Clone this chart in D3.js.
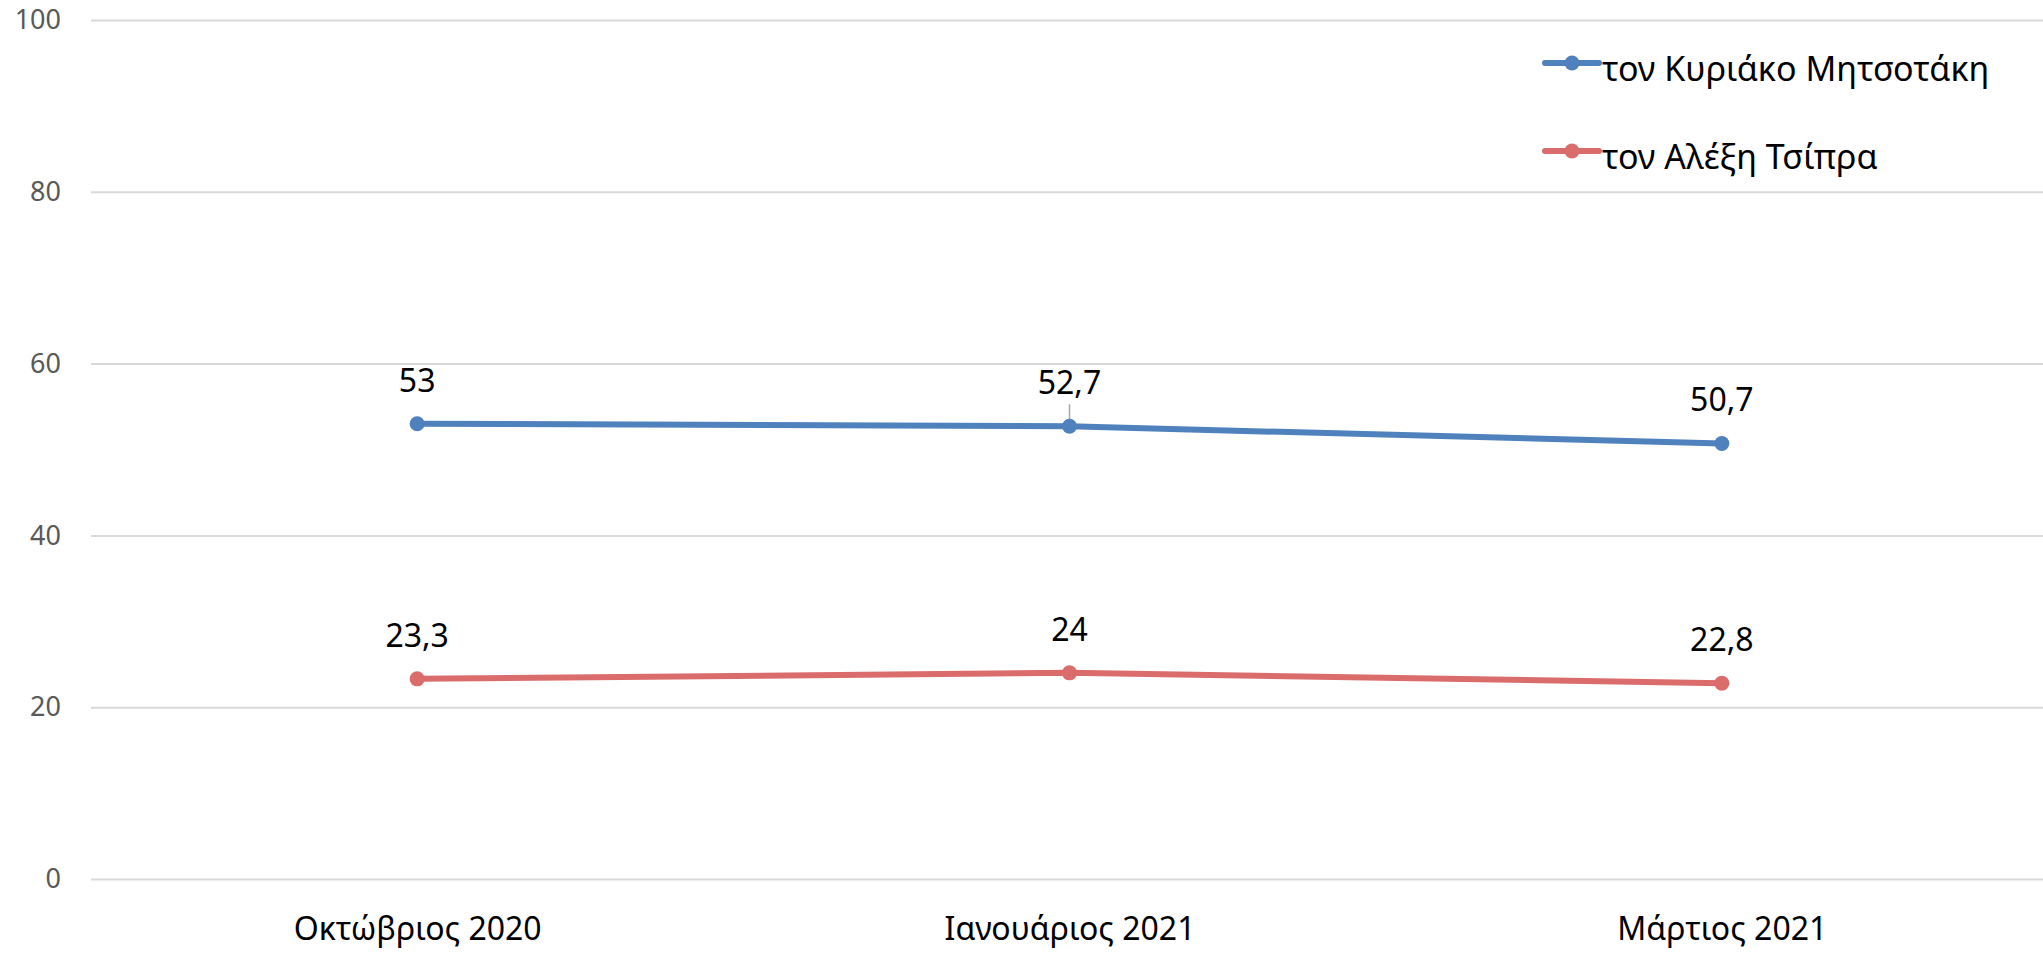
<!DOCTYPE html>
<html>
<head>
<meta charset="utf-8">
<script src="https://cdn.jsdelivr.net/npm/d3@7"></script>
<style>
  html, body { margin: 0; padding: 0; background: #fff; }
  svg { display: block; font-family: "Noto Sans", "Open Sans", sans-serif; }
</style>
</head>
<body>
<svg id="chart" width="2043" height="954"></svg>
<script>
const months = ['Οκτώβριος 2020', 'Ιανουάριος 2021', 'Μάρτιος 2021'];
const seriesNames = ['τον Κυριάκο Μητσοτάκη', 'τον Αλέξη Τσίπρα'];
const mitsotakis = [53, 52.7, 50.7];
const tsipras = [23.3, 24, 22.8];
const yTicks = [0, 20, 40, 60, 80, 100];
const colors = ['#4F81BD', '#DB6C6C'];

const draw = () => {
    const svg = d3.select('#chart');
    const width = +svg.attr('width');
    const height = +svg.attr('height');
    const margin = { top: 20, right: 0, bottom: 75, left: 91 };

    const xScale = d3.scalePoint().domain(months).range([margin.left, 2048]).padding(0.5);
    const yScale = d3.scaleLinear().domain([0, 100]).range([height - margin.bottom, margin.top]);

    // gridlines + y labels
    const yAxis = d3.axisLeft(yScale).tickValues(yTicks).tickSize(-(width - margin.left)).tickPadding(30);
    const yg = svg.append('g').attr('transform', `translate(${margin.left},0)`).call(yAxis);
    yg.select('.domain').remove();
    yg.selectAll('.tick line').attr('stroke', '#d9d9d9').attr('stroke-width', 2);
    yg.selectAll('.tick text').attr('fill', '#595959').attr('font-size', '27px')
        .attr('font-family', '"Noto Sans", sans-serif');

    // x labels
    const xAxis = d3.axisBottom(xScale).tickSize(0).tickPadding(38);
    const xg = svg.append('g').attr('transform', `translate(0,${height - margin.bottom})`).call(xAxis);
    xg.select('.domain').remove();
    xg.selectAll('.tick text').attr('fill', '#000').attr('font-size', '32px')
        .attr('font-family', '"Noto Sans", sans-serif');

    const series = [mitsotakis, tsipras].map((vals, i) => ({
        name: seriesNames[i],
        color: colors[i],
        points: vals.map((v, j) => ({ month: months[j], value: v }))
    }));

    const line = d3.line().x(d => xScale(d.month)).y(d => yScale(d.value));

    series.forEach((s, si) => {
        const g = svg.append('g');
        g.append('path').datum(s.points)
            .attr('d', line).attr('fill', 'none')
            .attr('stroke', s.color).attr('stroke-width', 6);
        if (si === 0) {
            // small leader line on the middle label
            g.append('line')
                .attr('x1', xScale(months[1])).attr('x2', xScale(months[1]))
                .attr('y1', yScale(s.points[1].value) - 22).attr('y2', yScale(s.points[1].value))
                .attr('stroke', '#a6a6a6').attr('stroke-width', 1.5);
        }
        g.selectAll('circle').data(s.points).join('circle')
            .attr('cx', d => xScale(d.month)).attr('cy', d => yScale(d.value))
            .attr('r', 7.5).attr('fill', s.color);
        g.selectAll('text').data(s.points).join('text')
            .attr('x', d => xScale(d.month))
            .attr('y', d => yScale(d.value) - 32)
            .attr('text-anchor', 'middle')
            .attr('font-size', '32px')
            .attr('fill', '#000')
            .text(d => String(d.value).replace('.', ','));
    });

    // legend
    const legend = svg.selectAll('.legend').data(series).join('g')
        .attr('class', 'legend')
        .attr('transform', (d, i) => `translate(1545,${63 + i * 88})`);
    legend.append('line').attr('x1', 0).attr('x2', 54).attr('y1', 0).attr('y2', 0)
        .attr('stroke', d => d.color).attr('stroke-width', 6).attr('stroke-linecap', 'round');
    legend.append('circle').attr('cx', 27).attr('cy', 0).attr('r', 7.5).attr('fill', d => d.color);
    legend.append('text').attr('x', 57).attr('y', 18)
        .attr('font-size', '34px').attr('fill', '#000')
        .text(d => d.name);
};
draw();
</script>
</body>
</html>
